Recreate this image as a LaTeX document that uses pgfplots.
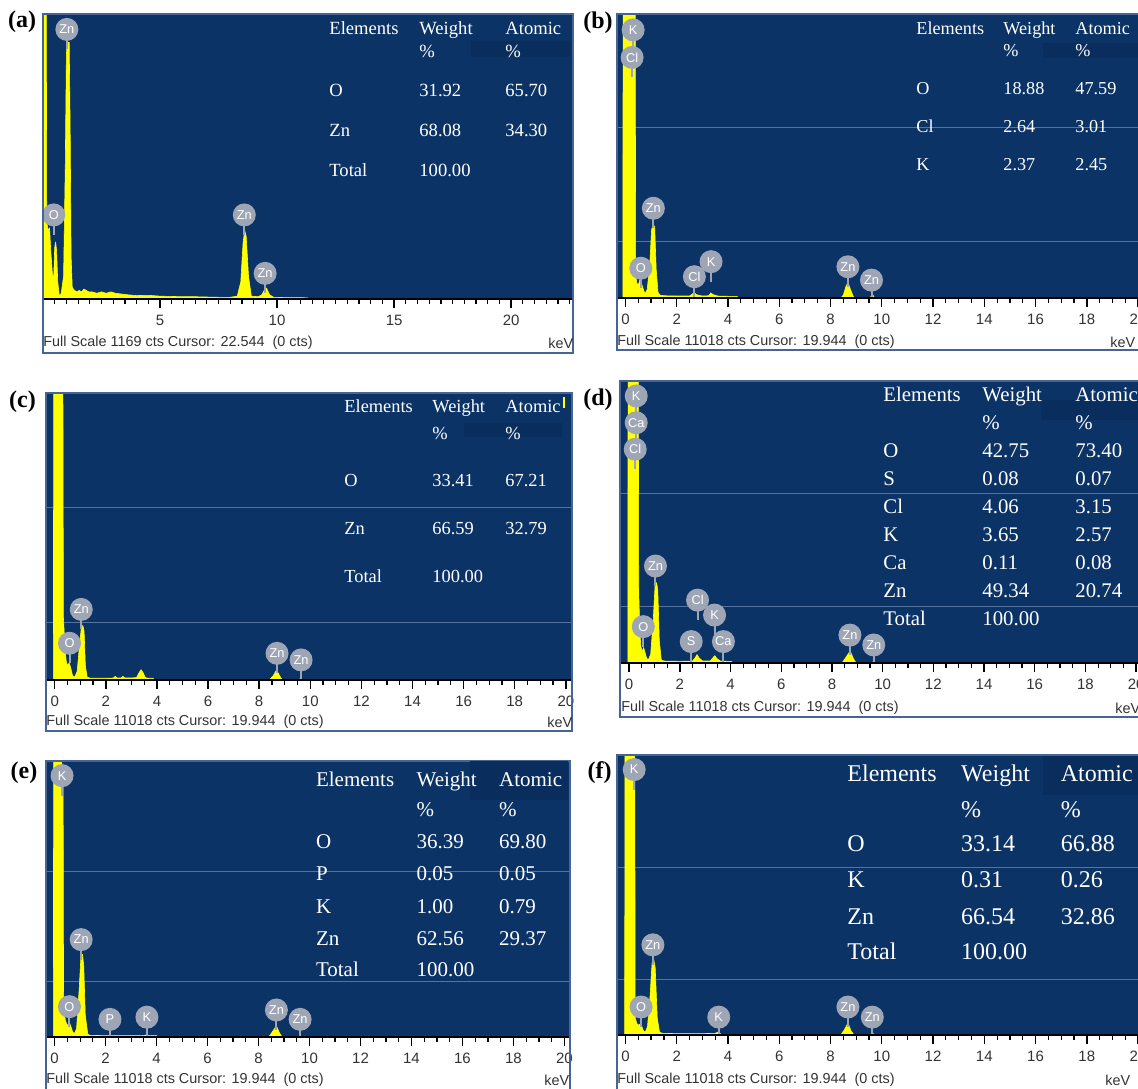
\documentclass[border=0pt]{standalone}
\usepackage{fontspec}
\setmainfont{Liberation Serif}
\newfontfamily\arial{Liberation Sans}
\usepackage{pgfplots}
\pgfplotsset{compat=1.18}
\definecolor{edsblue}{RGB}{11,51,102}
\definecolor{edsdark}{RGB}{9,46,94}
\definecolor{gridc}{RGB}{85,115,160}
\definecolor{labg}{RGB}{158,166,182}
\definecolor{framec}{RGB}{70,100,150}
\definecolor{specy}{RGB}{255,255,0}
\tikzset{el/.style={circle, fill=labg, text=white, font=\arial\fontsize{6.4}{7}\selectfont, inner sep=0pt, minimum size=11.5pt}}
\pgfplotsset{
  eds/.style={
    scale only axis, anchor=south west, ymin=0, ymax=100,
    axis background/.style={fill=edsblue},
    axis line style={draw=none},
    ytick={20,60}, yticklabels={}, ymajorgrids,
    y grid style={gridc, line width=0.45pt},
    ytick style={draw=none},
    xtick pos=bottom,
    tick align=outside,
    major tick length=4.5pt, minor tick length=2.3pt,
    xtick style={black, line width=0.7pt},
    minor x tick style={black, line width=0.6pt},
    xticklabel style={font=\arial\fontsize{7.5}{8}\selectfont, text=black!80, inner sep=0pt, yshift=-3.5pt},
    /pgf/number format/assume math mode=true,
    extra description/.code={\draw[black, line width=0.8pt] (rel axis cs:0,0) -- (rel axis cs:1,0);},
  },
  spec/.style={fill=specy, draw=specy, line width=0.3pt, line join=round},
}
\newcommand{\lab}[3]{\draw[labg, line width=1pt] (axis cs:#1,#2) -- ++(0pt,-10pt); \node[el] at (axis cs:#1,#2) {#3};}
\newcommand{\tx}[4]{\node[anchor=base west, inner sep=0pt, text=white, font=\fontsize{#4}{#4}\selectfont, yshift={-0.33*#4pt}] at (#1,#2) {#3};}
\newcommand{\fs}[3]{\node[anchor=west, inner sep=0pt, font=\arial\fontsize{7.2}{7.2}\selectfont, text=black!80] at (#1,#2) {#3};}
\newcommand{\kev}[2]{\node[anchor=west, inner sep=0pt, font=\arial\fontsize{7.2}{7.2}\selectfont, text=black!80] at (#1,#2) {keV};}
\newcommand{\pl}[3]{\node[font=\bfseries\fontsize{12}{12}\selectfont, inner sep=0pt] at (#1,#2) {(#3)};}
\begin{document}
\begin{tikzpicture}
\useasboundingbox (0,0) rectangle (569pt,-544pt);
\fill[white] (0,0) rectangle (569pt,-544pt);

% ---------------- (a)
\begin{axis}[eds, at={(21.5pt,-149.5pt)}, width=264.5pt, height=142.5pt,
  xmin=0, xmax=22.6, ytick=\empty, xtick={5,10,15,20}, minor xtick={0.5,1,...,22.5}]
\addplot[spec] coordinates {(0.00,0) (0.01,105) (0.14,105) (0.16,27) (0.22,24) (0.28,25) (0.33,17) (0.40,9) (0.45,6) (0.50,18) (0.54,20) (0.58,17) (0.63,6) (0.70,1) (0.78,2) (0.88,8) (0.95,45) (1.00,86) (1.04,90) (1.12,90) (1.16,60) (1.20,15) (1.25,4) (1.35,3) (1.45,2.5) (1.55,3) (1.65,2.5) (1.75,3.5) (1.85,3) (1.95,2.5) (2.1,2.5) (2.3,2) (2.5,2.5) (2.7,2) (2.9,2.5) (3.1,2) (3.3,1.8) (3.6,1.5) (4.0,1.2) (4.5,1.3) (5.0,1) (5.5,0.9) (6.0,0.8) (6.5,0.8) (7.0,0.7) (7.5,0.6) (8.0,0.6) (8.3,1) (8.45,6) (8.55,20) (8.62,24) (8.68,22) (8.78,8) (8.9,1) (9.2,0.8) (9.35,1.5) (9.48,3.5) (9.55,3.8) (9.68,1.5) (9.85,0.6) (10.3,0.5) (10.8,0.5) (11.3,0.4) (11.35,0)} \closedcycle;
\lab{1.02}{94.6}{Zn}
\lab{0.46}{29.5}{O}
\lab{8.6}{29.5}{Zn}
\lab{9.49}{9.0}{Zn}
\end{axis}

% ---------------- (b)
\begin{axis}[eds, at={(309pt,-149pt)}, width=264pt, height=142pt,
  xmin=-0.29, xmax=20.31, xtick={0,2,...,20}, minor xtick={0.5,1,...,20}]
\addplot[spec] coordinates {(-0.1,0) (-0.09,110) (0.38,110) (0.40,8) (0.45,5) (0.52,5) (0.58,7) (0.63,5) (0.70,3) (0.76,1.5) (0.85,3) (0.95,12) (1.02,24) (1.08,26) (1.14,25) (1.2,10) (1.27,2) (1.35,1) (1.5,0.8) (2.0,0.7) (2.5,0.7) (2.6,1.3) (2.68,2) (2.76,1.2) (3.0,0.7) (3.25,0.8) (3.33,1.8) (3.42,1.2) (3.6,0.7) (4.0,0.6) (4.35,0.6) (4.4,0) (8.4,0) (8.5,1) (8.6,4) (8.68,5.5) (8.78,3) (8.9,0.3) (9.0,0) (9.55,0) (9.6,1) (9.66,1) (9.72,0)} \closedcycle;
\lab{0.30}{94.4}{K}
\lab{0.26}{84.7}{Cl}
\lab{1.09}{31.6}{Zn}
\lab{0.6}{10.5}{O}
\lab{2.69}{7.5}{Cl}
\lab{3.34}{12.8}{K}
\lab{8.68}{11}{Zn}
\lab{9.6}{6.3}{Zn}
\end{axis}

% ---------------- (c)
\begin{axis}[eds, at={(23pt,-340pt)}, width=263pt, height=143.5pt,
  xmin=-0.34, xmax=20.24, xtick={0,2,...,20}, minor xtick={0.5,1,...,20}]
\addplot[spec] coordinates {(-0.05,0) (-0.04,110) (0.32,110) (0.34,22) (0.37,17) (0.41,10) (0.46,6) (0.52,5) (0.56,6) (0.62,4.5) (0.70,1.5) (0.78,1) (0.88,3) (0.97,12) (1.04,18) (1.10,19) (1.15,17) (1.2,5) (1.27,1) (1.4,0.6) (2.0,0.6) (2.3,0.7) (2.37,1.3) (2.44,0.7) (2.6,0.7) (2.67,1.3) (2.74,0.7) (3.2,0.8) (3.3,2.5) (3.38,3.6) (3.46,2.5) (3.55,0.8) (3.7,0.6) (3.85,0.6) (3.9,0) (8.4,0) (8.55,1.5) (8.68,3.5) (8.8,1.5) (8.9,0) (9.55,0) (9.62,0.6) (9.7,0)} \closedcycle;
\lab{1.04}{24.6}{Zn}
\lab{0.58}{12.8}{O}
\lab{8.7}{9.3}{Zn}
\lab{9.64}{7}{Zn}
\end{axis}

% ---------------- (d)
\begin{axis}[eds, at={(310.5pt,-331.5pt)}, width=262.5pt, height=141pt,
  xmin=-0.32, xmax=20.39, xtick={0,2,...,20}, minor xtick={0.5,1,...,20}]
\addplot[spec] coordinates {(-0.05,0) (-0.04,110) (0.36,110) (0.38,25) (0.42,12) (0.46,6) (0.52,4) (0.57,5.5) (0.62,4) (0.68,2) (0.75,1) (0.85,3) (0.95,15) (1.02,27) (1.08,28.5) (1.13,26) (1.19,8) (1.27,1) (1.4,0.7) (2.0,0.6) (2.5,0.7) (2.6,1.8) (2.68,3) (2.76,1.8) (2.9,0.7) (3.2,0.7) (3.3,1.8) (3.38,2.6) (3.46,1.6) (3.6,0.7) (3.9,0.6) (4.05,0.5) (4.08,0) (8.4,0) (8.55,2) (8.72,4.3) (8.85,1.5) (8.95,0) (9.58,0) (9.65,0.7) (9.72,0)} \closedcycle;
\lab{0.28}{94.7}{K}
\lab{0.28}{85.2}{Ca}
\lab{0.24}{75.8}{Cl}
\lab{1.04}{34.4}{Zn}
\lab{0.56}{12.9}{O}
\lab{2.7}{22.3}{Cl}
\lab{3.37}{17}{K}
\lab{2.45}{7.6}{S}
\lab{3.72}{7.6}{Ca}
\lab{8.71}{9.9}{Zn}
\lab{9.65}{6.4}{Zn}
\end{axis}

% ---------------- (e)
\begin{axis}[eds, at={(23pt,-518.5pt)}, width=261.5pt, height=138pt,
  xmin=-0.34, xmax=20.18, xtick={0,2,...,20}, minor xtick={0.5,1,...,20}]
\addplot[spec] coordinates {(-0.05,0) (-0.04,110) (0.26,110) (0.28,98) (0.33,98) (0.35,10) (0.42,6) (0.5,4) (0.57,5.5) (0.63,4) (0.70,2) (0.77,1.2) (0.86,3) (0.96,17) (1.03,29) (1.09,30) (1.14,26) (1.2,8) (1.3,1) (1.4,0.6) (2.0,0.5) (2.5,0.5) (3.0,0.5) (3.5,0.5) (3.6,0.8) (3.7,0.5) (4.0,0.5) (4.05,0) (8.4,0) (8.55,2) (8.7,4) (8.82,1.5) (8.92,0) (9.57,0) (9.63,0.5) (9.7,0)} \closedcycle;
\lab{0.29}{94.7}{K}
\lab{1.04}{35.3}{Zn}
\lab{0.58}{11}{O}
\lab{2.17}{6.4}{P}
\lab{3.62}{7.2}{K}
\lab{8.7}{9.8}{Zn}
\lab{9.63}{6.4}{Zn}
\end{axis}

% ---------------- (f)
\begin{axis}[eds, at={(308.5pt,-517.5pt)}, width=264.5pt, height=140pt,
  xmin=-0.33, xmax=20.31, xtick={0,2,...,20}, minor xtick={0.5,1,...,20}]
\addplot[spec] coordinates {(-0.03,0) (-0.02,110) (0.36,110) (0.38,6) (0.45,4) (0.52,3.5) (0.58,4) (0.64,3) (0.70,1.5) (0.77,1) (0.86,3) (0.96,14) (1.04,26) (1.1,27) (1.16,24) (1.24,6) (1.33,1) (1.45,0.6) (2.0,0.5) (2.5,0.5) (3.0,0.5) (3.5,0.6) (3.6,1) (3.7,0.5) (3.75,0) (8.4,0) (8.55,2) (8.68,4.3) (8.8,1.5) (8.92,0) (9.58,0) (9.64,0.7) (9.72,0)} \closedcycle;
\lab{0.34}{94.8}{K}
\lab{1.07}{32.2}{Zn}
\lab{0.61}{10}{O}
\lab{3.64}{6.4}{K}
\lab{8.68}{10}{Zn}
\lab{9.63}{6.4}{Zn}
\end{axis}

\begin{scope}[x=0.5pt,y=-0.5pt]
% frames
\draw[framec, line width=0.6pt] (43,14) rectangle (573,353);
\draw[framec, line width=0.6pt] (617,14) rectangle (1150,350);
\draw[framec, line width=0.6pt] (46,393) rectangle (572,731);
\draw[framec, line width=0.6pt] (620,381) rectangle (1150,717);
\draw[framec, line width=0.6pt] (46,761) rectangle (570,1100);
\draw[framec, line width=0.6pt] (617,755) rectangle (1150,1100);
% darker header blocks
\fill[edsdark] (471,41) rectangle (570,57);
\fill[edsdark] (1043,43) rectangle (1138,58);
\fill[edsdark] (464,423) rectangle (562,437);
\fill[edsdark] (1041,400) rectangle (1138,420);
\fill[edsdark] (470,761) rectangle (568,800);
\fill[edsdark] (1043,756) rectangle (1138,795);
\fill[specy] (563,397) rectangle (565,408);
% panel labels
\pl{22}{22}{a}
\pl{598}{23}{b}
\pl{22.5}{402}{c}
\pl{598}{400}{d}
\pl{24}{772.5}{e}
\pl{599.5}{773}{f}
% bottom texts
\fs{43}{343}{Full Scale 1169 cts Cursor: 22.544\ \ (0 cts)}
\kev{548}{343}
\fs{617}{342}{Full Scale 11018 cts Cursor: 19.944\ \ (0 cts)}
\kev{1110}{342}
\fs{46}{722}{Full Scale 11018 cts Cursor: 19.944\ \ (0 cts)}
\kev{547}{722}
\fs{621}{708}{Full Scale 11018 cts Cursor: 19.944\ \ (0 cts)}
\kev{1115}{708}
\fs{46}{1080}{Full Scale 11018 cts Cursor: 19.944\ \ (0 cts)}
\kev{544}{1080}
\fs{617}{1080}{Full Scale 11018 cts Cursor: 19.944\ \ (0 cts)}
\kev{1105}{1080}
% table (a)
\tx{329}{28.3}{Elements}{9.3}
\tx{419}{28.3}{Weight}{9.3}
\tx{505}{28.3}{Atomic}{9.3}
\tx{419}{51.7}{\%}{9.3}
\tx{505}{51.7}{\%}{9.3}
\tx{329}{90.7}{O}{9.3}
\tx{419}{90.7}{31.92}{9.3}
\tx{505}{90.7}{65.70}{9.3}
\tx{329}{130.7}{Zn}{9.3}
\tx{419}{130.7}{68.08}{9.3}
\tx{505}{130.7}{34.30}{9.3}
\tx{329}{170}{Total}{9.3}
\tx{419}{170}{100.00}{9.3}
% table (b)
\tx{916}{28.3}{Elements}{9.1}
\tx{1003}{28.3}{Weight}{9.1}
\tx{1075}{28.3}{Atomic}{9.1}
\tx{1003}{50.7}{\%}{9.1}
\tx{1075}{50.7}{\%}{9.1}
\tx{916}{88.3}{O}{9.1}
\tx{1003}{88.3}{18.88}{9.1}
\tx{1075}{88.3}{47.59}{9.1}
\tx{916}{126.7}{Cl}{9.1}
\tx{1003}{126.7}{2.64}{9.1}
\tx{1075}{126.7}{3.01}{9.1}
\tx{916}{164}{K}{9.1}
\tx{1003}{164}{2.37}{9.1}
\tx{1075}{164}{2.45}{9.1}
% table (c)
\tx{344}{406}{Elements}{9.2}
\tx{432}{406}{Weight}{9.2}
\tx{505}{406}{Atomic}{9.2}
\tx{432}{433.3}{\%}{9.2}
\tx{505}{433.3}{\%}{9.2}
\tx{344}{480.7}{O}{9.2}
\tx{432}{480.7}{33.41}{9.2}
\tx{505}{480.7}{67.21}{9.2}
\tx{344}{528.3}{Zn}{9.2}
\tx{432}{528.3}{66.59}{9.2}
\tx{505}{528.3}{32.79}{9.2}
\tx{344}{576.7}{Total}{9.2}
\tx{432}{576.7}{100.00}{9.2}
% table (d)
\tx{883}{395}{Elements}{10.4}
\tx{982}{395}{Weight}{10.4}
\tx{1075}{395}{Atomic}{10.4}
\tx{982}{422.7}{\%}{10.4}
\tx{1075}{422.7}{\%}{10.4}
\tx{883}{450.7}{O}{10.4}
\tx{982}{450.7}{42.75}{10.4}
\tx{1075}{450.7}{73.40}{10.4}
\tx{883}{478.3}{S}{10.4}
\tx{982}{478.3}{0.08}{10.4}
\tx{1075}{478.3}{0.07}{10.4}
\tx{883}{506.7}{Cl}{10.4}
\tx{982}{506.7}{4.06}{10.4}
\tx{1075}{506.7}{3.15}{10.4}
\tx{883}{534.3}{K}{10.4}
\tx{982}{534.3}{3.65}{10.4}
\tx{1075}{534.3}{2.57}{10.4}
\tx{883}{562.3}{Ca}{10.4}
\tx{982}{562.3}{0.11}{10.4}
\tx{1075}{562.3}{0.08}{10.4}
\tx{883}{590.7}{Zn}{10.4}
\tx{982}{590.7}{49.34}{10.4}
\tx{1075}{590.7}{20.74}{10.4}
\tx{883}{618.3}{Total}{10.4}
\tx{982}{618.3}{100.00}{10.4}
% table (e)
\tx{315.6}{779.3}{Elements}{10.5}
\tx{416.2}{779.3}{Weight}{10.5}
\tx{498.7}{779.3}{Atomic}{10.5}
\tx{416.2}{810}{\%}{10.5}
\tx{498.7}{810}{\%}{10.5}
\tx{315.6}{841.7}{O}{10.5}
\tx{416.2}{841.7}{36.39}{10.5}
\tx{498.7}{841.7}{69.80}{10.5}
\tx{315.6}{874}{P}{10.5}
\tx{416.2}{874}{0.05}{10.5}
\tx{498.7}{874}{0.05}{10.5}
\tx{315.6}{906.7}{K}{10.5}
\tx{416.2}{906.7}{1.00}{10.5}
\tx{498.7}{906.7}{0.79}{10.5}
\tx{315.6}{939}{Zn}{10.5}
\tx{416.2}{939}{62.56}{10.5}
\tx{498.7}{939}{29.37}{10.5}
\tx{315.6}{970}{Total}{10.5}
\tx{416.2}{970}{100.00}{10.5}
% table (f)
\tx{847}{773.3}{Elements}{12}
\tx{960.8}{773.3}{Weight}{12}
\tx{1060.4}{773.3}{Atomic}{12}
\tx{960.8}{810}{\%}{12}
\tx{1060.4}{810}{\%}{12}
\tx{847}{844}{O}{12}
\tx{960.8}{844}{33.14}{12}
\tx{1060.4}{844}{66.88}{12}
\tx{847}{880}{K}{12}
\tx{960.8}{880}{0.31}{12}
\tx{1060.4}{880}{0.26}{12}
\tx{847}{916.7}{Zn}{12}
\tx{960.8}{916.7}{66.54}{12}
\tx{1060.4}{916.7}{32.86}{12}
\tx{847}{951.7}{Total}{12}
\tx{960.8}{951.7}{100.00}{12}
\end{scope}
\end{tikzpicture}
\end{document}
